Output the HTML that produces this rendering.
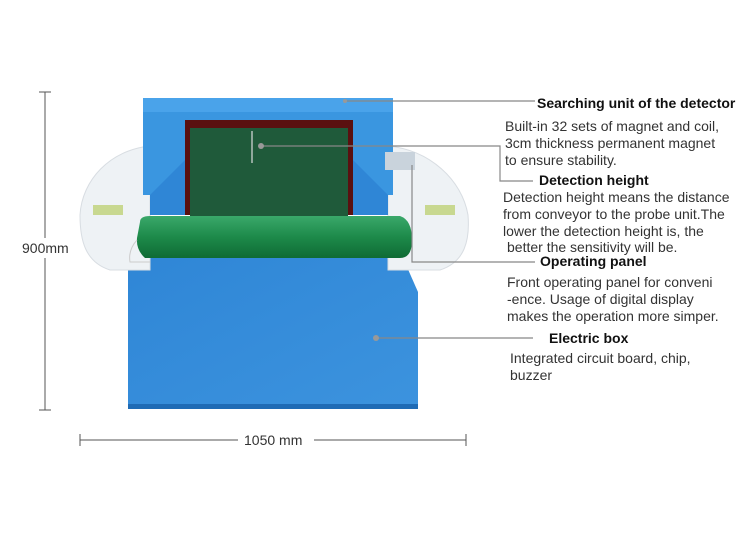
<!DOCTYPE html>
<html><head><style>
body{margin:0;background:#fff;}
.t{font-family:"Liberation Sans",sans-serif;fill:#333;font-size:14px;}
.b{font-weight:bold;fill:#111;font-size:14px;}
</style></head><body>
<svg width="750" height="549" viewBox="0 0 750 549" xmlns="http://www.w3.org/2000/svg">
<defs>
<linearGradient id="bl" x1="0" y1="0" x2="1" y2="1"><stop offset="0" stop-color="#2f86d6"/><stop offset="1" stop-color="#3c93de"/></linearGradient>
<linearGradient id="gr" x1="0" y1="0" x2="0" y2="1"><stop offset="0" stop-color="#3aa86a"/><stop offset="0.5" stop-color="#1d8a4a"/><stop offset="1" stop-color="#0f6b34"/></linearGradient>
</defs>
<path d="M128 258 H403 L418 292 V408 H128 Z" fill="url(#bl)"/>
<rect x="128" y="404" width="290" height="5" fill="#1f6bb5"/>
<path d="M150 146 C110 150 82 180 80 215 C80 240 85 262 110 270 L150 270 L150 146Z" fill="#eef2f5" stroke="#d8dde2"/>
<path d="M388 146 C430 150 462 180 468 215 C470 240 465 262 440 270 L388 270Z" fill="#eef2f5" stroke="#d8dde2"/>
<rect x="93" y="205" width="30" height="10" fill="#c8d890"/>
<rect x="425" y="205" width="30" height="10" fill="#c8d890"/>
<rect x="143" y="98" width="250" height="97" fill="#3a96e0"/>
<rect x="143" y="98" width="250" height="14" fill="#4aa3ea"/>
<rect x="185" y="120" width="168" height="95" fill="#5a1010"/>
<rect x="190" y="128" width="158" height="90" fill="#1f5a3a"/>
<path d="M150 195 L185 160 V215 H150Z" fill="#2f86d6"/>
<path d="M388 195 L353 160 V215 H388Z" fill="#2f86d6"/>
<rect x="385" y="152" width="30" height="18" fill="#c9d3dc"/>
<path d="M140 222 Q140 216 150 216 H400 Q412 220 412 240 Q412 258 400 258 H145 Q136 250 137 238Z" fill="url(#gr)"/>
<path d="M137 240 Q128 250 130 262 L150 262" fill="none" stroke="#ccc"/>
<g stroke="#555" stroke-width="1">
<line x1="45" y1="92" x2="45" y2="238"/><line x1="45" y1="258" x2="45" y2="410"/>
<line x1="39" y1="92" x2="51" y2="92"/><line x1="39" y1="410" x2="51" y2="410"/>
<line x1="80" y1="440" x2="238" y2="440"/><line x1="314" y1="440" x2="466" y2="440"/>
<line x1="80" y1="434" x2="80" y2="446"/><line x1="466" y1="434" x2="466" y2="446"/>
</g>
<text x="22" y="253" class="t">900mm</text>
<text x="244" y="445" class="t">1050 mm</text>
<g stroke="#888" stroke-width="1.2" fill="none">
<line x1="345" y1="101" x2="535" y2="101"/>
<path d="M261 146 H500 V181 H533"/>
<path d="M412 165 V262 H535"/>
<line x1="376" y1="338" x2="533" y2="338"/>
<line x1="252" y1="131" x2="252" y2="163" stroke="#ddd"/>
</g>
<g fill="#999"><circle cx="261" cy="146" r="3"/><circle cx="376" cy="338" r="3"/><circle cx="345" cy="101" r="2"/></g>
<text x="537" y="108" class="t b">Searching unit of the detector</text>
<text x="505" y="131" class="t">Built-in 32 sets of magnet and coil,</text>
<text x="505" y="148" class="t">3cm thickness permanent magnet</text>
<text x="505" y="165" class="t">to ensure stability.</text>
<text x="539" y="185" class="t b">Detection height</text>
<text x="503" y="202" class="t">Detection height means the distance</text>
<text x="503" y="219" class="t">from conveyor to the probe unit.The</text>
<text x="503" y="236" class="t">lower the detection height is, the</text>
<text x="507" y="252" class="t">better the sensitivity will be.</text>
<text x="540" y="266" class="t b">Operating panel</text>
<text x="507" y="287" class="t">Front operating panel for conveni</text>
<text x="507" y="304" class="t">-ence. Usage of digital display</text>
<text x="507" y="321" class="t">makes the operation more simper.</text>
<text x="549" y="343" class="t b">Electric box</text>
<text x="510" y="363" class="t">Integrated circuit board, chip,</text>
<text x="510" y="380" class="t">buzzer</text>
</svg>
</body></html>
